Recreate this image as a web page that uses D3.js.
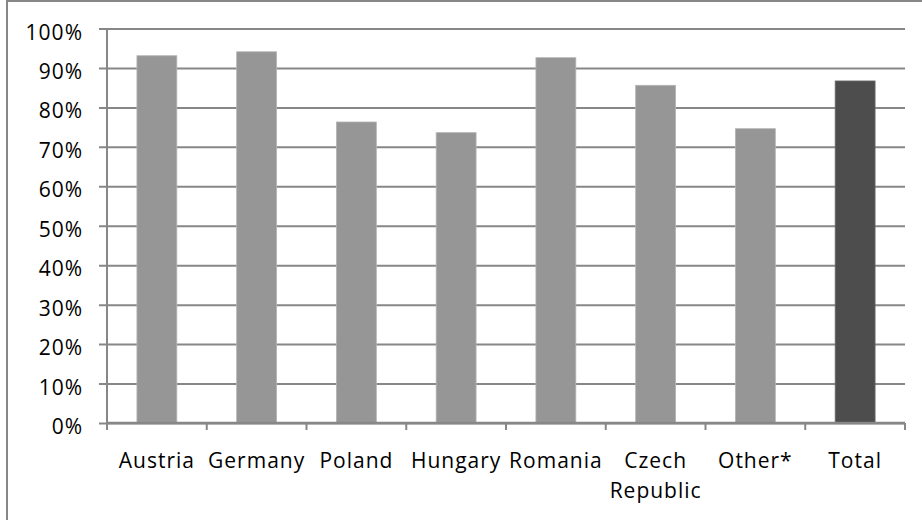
<!DOCTYPE html>
<html>
<head>
<meta charset="utf-8">
<script src="https://cdn.jsdelivr.net/npm/d3@7"></script>
<style>
  body { margin: 0; background: #fff; }
  svg text { font-family: "Open Sans", sans-serif; fill: #000; letter-spacing: 1px; }
</style>
</head>
<body>
<div class="chart"></div>
<script>
// data
const categories = ['Austria', 'Germany', 'Poland', 'Hungary', 'Romania', 'Czech Republic', 'Other*', 'Total'];
const shares = [93.1, 94.1, 76.3, 73.6, 92.6, 85.6, 74.6, 86.7];
const yTicks = [0, 10, 20, 30, 40, 50, 60, 70, 80, 90, 100];

const width = 922;
const height = 520;
const margin = { top: 28.5, right: 17, bottom: 97, left: 107 };

const svg = d3.select('.chart').append('svg')
  .attr('width', width)
  .attr('height', height);

// outer frame (cropped on right and bottom in the original)
svg.append('rect')
  .attr('x', 7).attr('y', 1)
  .attr('width', 1000).attr('height', 1000)
  .attr('fill', 'none')
  .attr('stroke', '#878787')
  .attr('stroke-width', 2);

const x = d3.scaleBand()
  .domain(categories)
  .range([margin.left, width - margin.right])
  .paddingInner(0.6)
  .paddingOuter(0.3);

const y = d3.scaleLinear()
  .domain([0, 100])
  .range([height - margin.bottom, margin.top]);

// gridlines + y labels
const yAxis = svg.append('g')
  .attr('transform', 'translate(' + margin.left + ',0)')
  .call(d3.axisLeft(y)
    .tickValues(yTicks)
    .tickSize(8)
    .tickPadding(16)
    .tickFormat(d => d + '%'));
yAxis.select('.domain').remove();
yAxis.selectAll('.tick line')
  .attr('x2', width - margin.right - margin.left)
  .attr('x1', -8)
  .attr('stroke', '#878787')
  .attr('stroke-width', 2);
yAxis.selectAll('.tick text')
  .attr('dy', '0.5em')
  .style('font-size', '21px');

// bars
svg.append('g').selectAll('rect')
  .data(shares)
  .enter()
  .append('rect')
  .attr('x', (d, i) => x(categories[i]))
  .attr('y', d => y(d))
  .attr('width', x.bandwidth())
  .attr('height', d => y(0) - y(d))
  .attr('fill', (d, i) => categories[i] === 'Total' ? '#4d4d4d' : '#969696')
  .attr('stroke', (d, i) => categories[i] === 'Total' ? '#6a6a6a' : '#b4b4b4')
  .attr('stroke-width', 0.8);

// vertical axis line
svg.append('line')
  .attr('x1', margin.left).attr('x2', margin.left)
  .attr('y1', margin.top).attr('y2', y(0))
  .attr('stroke', '#878787')
  .attr('stroke-width', 2);

// category axis: line, ticks between categories
const step = x.step();
const xBottom = svg.append('g');
xBottom.append('line')
  .attr('x1', margin.left).attr('x2', width - margin.right)
  .attr('y1', y(0)).attr('y2', y(0))
  .attr('stroke', '#878787')
  .attr('stroke-width', 2.5);
xBottom.selectAll('line.tick')
  .data(d3.range(categories.length + 1))
  .enter()
  .append('line')
  .attr('class', 'tick')
  .attr('x1', i => margin.left + i * step)
  .attr('x2', i => margin.left + i * step)
  .attr('y1', y(0))
  .attr('y2', y(0) + 7)
  .attr('stroke', '#878787')
  .attr('stroke-width', 2);

// labels, wrapped when they don't fit in one band
const labels = xBottom.selectAll('text')
  .data(categories)
  .enter()
  .append('text')
  .attr('x', d => x(d) + x.bandwidth() / 2)
  .attr('y', y(0) + 45)
  .attr('text-anchor', 'middle')
  .style('font-size', '21px');

labels.each(function (d) {
  const t = d3.select(this);
  const words = d.split(' ');
  const cx = t.attr('x');
  let line = [];
  let tspan = t.append('tspan').attr('x', cx);
  words.forEach(w => {
    line.push(w);
    tspan.text(line.join(' '));
    if (tspan.node().getComputedTextLength() > step && line.length > 1) {
      line.pop();
      tspan.text(line.join(' '));
      line = [w];
      tspan = t.append('tspan').attr('x', cx).attr('dy', 30).text(w);
    }
  });
});
</script>
</body>
</html>
